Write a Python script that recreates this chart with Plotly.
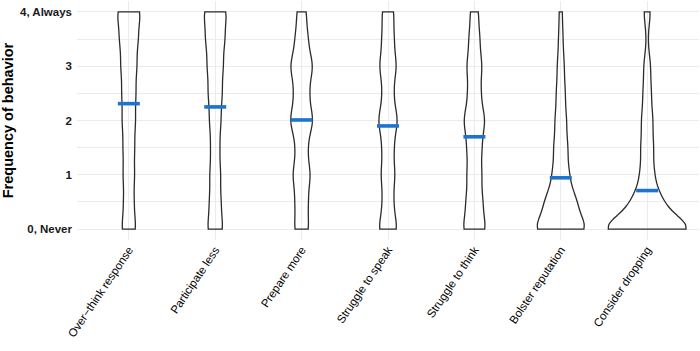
import numpy as np
import plotly.graph_objects as go

# Behaviour items (x categories)
categories = [
    "Over\u2212think response",
    "Participate less",
    "Prepare more",
    "Struggle to speak",
    "Struggle to think",
    "Bolster reputation",
    "Consider dropping",
]

# Response levels on the 0 (Never) .. 4 (Always) scale
levels = [0, 0.5, 1, 1.5, 2, 2.5, 3, 3.5, 4]

# Estimated number of responses at each level, per item
counts_overthink = [23, 16, 18, 18, 21, 22, 25, 29, 38]
counts_participate = [25, 18, 17, 14, 18, 22, 25, 30, 37]
counts_prepare = [23, 20, 28, 18, 37, 23, 36, 20, 15]
counts_speak = [30, 17, 22, 18, 31, 17, 27, 19, 19]
counts_think = [37, 26, 23, 23, 34, 20, 24, 17, 13]
counts_bolster = [84, 50, 26, 22, 18, 14, 11, 7, 5]
counts_dropping = [146, 48, 22, 20, 18, 13, 11, 2, 11]

# Mean frequency per item (blue bars)
mean_values = [2.31, 2.25, 2.01, 1.90, 1.70, 0.945, 0.71]

# Y tick labels
y_tickvals = [0, 1, 2, 3, 4]
y_ticktext = ["0, Never", "1", "2", "3", "4, Always"]

all_counts = [counts_overthink, counts_participate, counts_prepare, counts_speak,
              counts_think, counts_bolster, counts_dropping]

BW = 0.25          # kernel bandwidth
MAX_WIDTH = 0.9    # widest violin, in category units

# Violin widths scaled by response count (peak of un-normalised kernel sum)
grid = np.linspace(0, 4, 401)
lv = np.array(levels, dtype=float)
peaks = []
for cnts in all_counts:
    c = np.array(cnts, dtype=float)
    ks = (c[None, :] * np.exp(-0.5 * ((grid[:, None] - lv[None, :]) / BW) ** 2)).sum(axis=1)
    peaks.append(ks.max())
peaks = np.array(peaks)
widths = MAX_WIDTH * peaks / peaks.max()

FONT = "Liberation Sans, Arial, Helvetica, sans-serif"
GRID = "#EBEBEB"

fig = go.Figure()
for cat, cnts, w in zip(categories, all_counts, widths):
    ys = []
    for level, c in zip(levels, cnts):
        ys.extend([level] * c)
    fig.add_trace(go.Violin(
        x=[cat] * len(ys), y=ys,
        width=float(w),
        bandwidth=BW,
        spanmode="manual", span=[0, 4],
        points=False,
        box_visible=False, meanline_visible=False,
        line=dict(color="#2b2b2b", width=1.3),
        fillcolor="rgba(255,255,255,0)",
        showlegend=False,
        hoveron="violins",
        name=cat,
    ))

fig.add_trace(go.Scatter(
    x=categories, y=mean_values, mode="markers",
    marker=dict(symbol="line-ew", size=15.7, color="#1C74D0",
                line=dict(color="#1C74D0", width=3.6)),
    showlegend=False,
))

fig.update_layout(
    width=700, height=351,
    margin=dict(l=77, r=1, t=1, b=111),
    paper_bgcolor="white", plot_bgcolor="white",
    font=dict(family=FONT, color="#1a1a1a"),
    violinmode="overlay",
)
fig.update_xaxes(
    type="category", range=[-0.6, 6.6], automargin=False,
    showgrid=True, gridcolor=GRID, gridwidth=1,
    zeroline=False, showline=False, ticks="",
    tickangle=-56, tickfont=dict(size=11.5, color="#000000"),
)
fig.update_yaxes(
    range=[-0.2, 4.2], automargin=False,
    tickvals=y_tickvals, ticktext=y_ticktext,
    showgrid=True, gridcolor=GRID, gridwidth=1,
    minor=dict(dtick=0.5, tick0=0, showgrid=True, gridcolor=GRID, gridwidth=0.8),
    zeroline=False, showline=False, ticks="",
    ticklabelstandoff=4,
    tickfont=dict(size=11.5, color="#1a1a1a", weight="bold"),
    title=dict(text="Frequency of behavior",
               font=dict(size=14.5, color="#000000", weight="bold")),
)

fig.write_html("out.html", config={"displayModeBar": False},
               post_script="document.body.style.margin='0px';")
